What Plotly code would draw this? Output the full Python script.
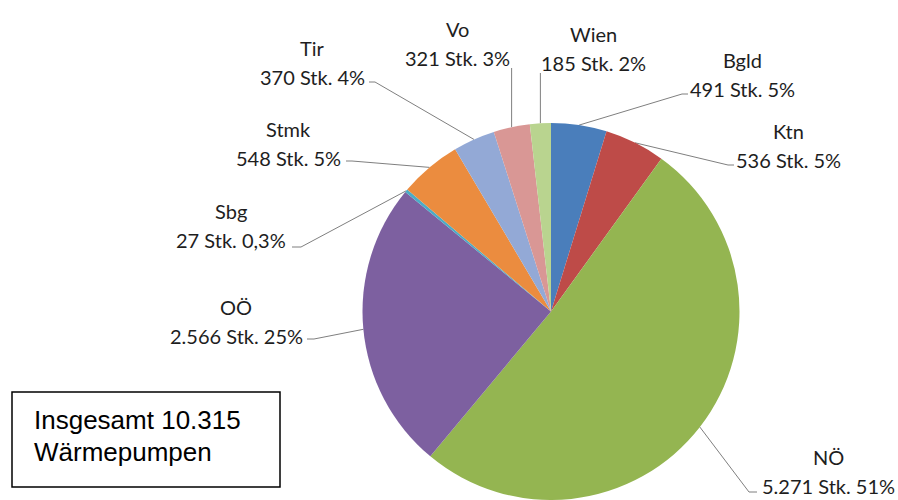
import math
import plotly.graph_objects as go

# Heat pumps by federal state (units)
states = ["Bgld", "Ktn", "NÖ", "OÖ", "Sbg", "Stmk", "Tir", "Vo", "Wien"]
units = [491, 536, 5271, 2566, 27, 548, 370, 321, 185]
shares = ["5%", "5%", "51%", "25%", "0,3%", "5%", "4%", "3%", "2%"]
unit_text = ["491", "536", "5.271", "2.566", "27", "548", "370", "321", "185"]
colors = ["#4A7EBB", "#BE4B48", "#94B551", "#7D60A0", "#4BACC6",
          "#EB8C3F", "#93A9D6", "#D99795", "#B9D48F"]

W, H = 898, 500
CX, CY, R = 551.0, 311.5, 188.5   # pie centre / radius in px

# label placement: centre x, y of the value line, leader start, elbow
label_pos = {
    "Bgld": dict(x=742, y=89, start=(688, 94), elbow=(682, 94)),
    "Ktn": dict(x=788, y=160, start=(734, 165), elbow=(728, 165)),
    "NÖ": dict(x=828, y=486, start=(757, 492), elbow=(749, 492)),
    "OÖ": dict(x=236, y=336, start=(307, 339), elbow=(314, 339)),
    "Sbg": dict(x=231, y=240, start=(292, 247), elbow=(301, 247)),
    "Stmk": dict(x=288, y=158, start=(346, 161), elbow=(352, 161)),
    "Tir": dict(x=312, y=77, start=(369, 82), elbow=(375, 82)),
    "Vo": dict(x=457, y=58, start=None, elbow=None),
    "Wien": dict(x=593, y=63, start=None, elbow=None),
}

fig = go.Figure()

fig.add_trace(go.Pie(
    labels=states, values=units, sort=False, direction="clockwise",
    rotation=0, textinfo="none", textposition="none",
    marker=dict(colors=colors, line=dict(width=0)),
    domain=dict(x=[(CX - R) / W, (CX + R) / W],
                y=[1 - (CY + R) / H, 1 - (CY - R) / H]),
    showlegend=False, hoverinfo="label+value+percent",
))

total = sum(units)
cum = 0
line_color = "#7F7F7F"
label_font = dict(family="Lato", size=20, color="#1E1E1E")
for name, val, ut, sh in zip(states, units, unit_text, shares):
    mid = (cum + val / 2) / total * 2 * math.pi
    cum += val
    rx = CX + R * math.sin(mid)
    ry = CY - R * math.cos(mid)
    p = label_pos[name]
    if p["start"] is None:
        # leader drops straight down from below the label
        xs = [rx, rx]
        ys = [p["y"] + 10, ry]
    else:
        xs = [p["start"][0], p["elbow"][0], rx]
        ys = [p["start"][1], p["elbow"][1], ry]
    fig.add_trace(go.Scatter(x=xs, y=ys, mode="lines",
                             line=dict(color=line_color, width=1),
                             hoverinfo="skip", showlegend=False))
    fig.add_annotation(x=p["x"], y=p["y"] - 29, text=name, showarrow=False,
                       xanchor="center", yanchor="middle", font=label_font)
    fig.add_annotation(x=p["x"], y=p["y"], text=f"{ut} Stk. {sh}",
                       showarrow=False, xanchor="center", yanchor="middle",
                       font=label_font)

# total box
fig.add_shape(type="rect", x0=12, y0=392, x1=280, y1=487,
              line=dict(color="black", width=1.5), fillcolor="white",
              layer="below")
fig.add_annotation(x=32, y=420, text="Insgesamt 10.315", showarrow=False,
                   xanchor="left", yanchor="middle",
                   font=dict(family="Liberation Sans", size=26, color="black"))
fig.add_annotation(x=32, y=452, text="Wärmepumpen", showarrow=False,
                   xanchor="left", yanchor="middle",
                   font=dict(family="Liberation Sans", size=26, color="black"))

fig.update_layout(
    width=W, height=H, margin=dict(l=0, r=0, t=0, b=0),
    paper_bgcolor="white", plot_bgcolor="rgba(0,0,0,0)",
    xaxis=dict(range=[0, W], visible=False, fixedrange=True, domain=[0, 1]),
    yaxis=dict(range=[H, 0], visible=False, fixedrange=True, domain=[0, 1]),
)

fig.write_html("out.html")
